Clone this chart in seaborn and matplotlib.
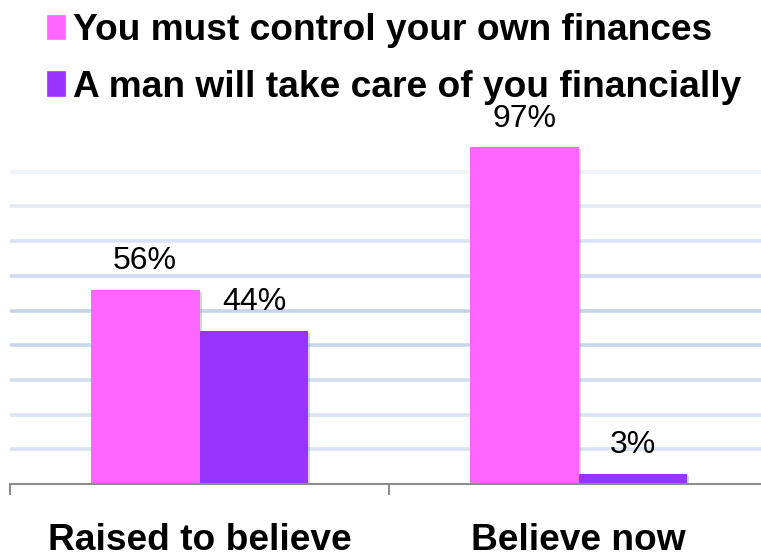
import matplotlib
matplotlib.use("Agg")
import matplotlib.pyplot as plt
import matplotlib.patheffects as pe
import pandas as pd
import seaborn as sns

# Survey results: share of respondents per belief
groups = ["Raised to believe", "Believe now"]
series = ["You must control your own finances", "A man will take care of you financially"]
own_finances = [56, 97]
man_provides = [44, 3]
colors = ["#FF66FF", "#9933FF"]
grid_levels = [10, 20, 30, 40, 50, 60, 70, 80, 90]
grid_colors = ["#d9e3f3", "#dae4f4", "#d2ddf0", "#c9d6ed", "#c6d3eb",
               "#d0dbef", "#dae3f4", "#e2e9f6", "#edf1f9"]

df = pd.DataFrame({
    "group": groups * 2,
    "series": [series[0]] * 2 + [series[1]] * 2,
    "value": own_finances + man_provides,
})

sns.set_theme(style="white")
plt.rcParams["font.family"] = ["Liberation Sans", "DejaVu Sans"]
plt.rcParams["text.color"] = "black"
plt.rcParams["xtick.color"] = "black"

fig = plt.figure(figsize=(7.61, 5.52), dpi=100)
ax = fig.add_axes([10 / 761, 68 / 552, 758 / 761, 347 / 552])

for lvl, c in zip(grid_levels, grid_colors):
    ax.axhline(lvl, color=c, lw=2.6, zorder=0)

sns.barplot(data=df, x="group", y="value", hue="series", order=groups,
            hue_order=series, palette=colors, width=0.574, gap=0,
            saturation=1, ax=ax, zorder=2)

shadow = [pe.SimplePatchShadow(offset=(1.5, -1.5), shadow_rgbFace="#888888", alpha=0.35),
          pe.Normal()]
for cont in ax.containers:
    for bar in cont:
        bar.set_edgecolor("none")
        bar.set_path_effects(shadow)
    ax.bar_label(cont, fmt="%d%%", padding=10, fontsize=23, color="black")

ax.set_xlim(-0.5, 1.5)
ax.set_ylim(0, 100)
ax.set_yticks([])
ax.set_xlabel("")
ax.set_ylabel("")
for side in ["top", "right", "left"]:
    ax.spines[side].set_visible(False)
ax.spines["bottom"].set_color("#8c8c8c")
ax.spines["bottom"].set_linewidth(1.5)

ax.set_xticks([-0.5, 0.5, 1.5], minor=True)
ax.tick_params(axis="x", which="minor", length=8, width=1.5, color="#8c8c8c",
               direction="out", bottom=True)
ax.tick_params(axis="x", which="major", length=0, pad=28, labelsize=26.7,
               labelcolor="black")
for lab in ax.get_xticklabels():
    lab.set_fontweight("bold")

handles, labels = ax.get_legend_handles_labels()
ax.legend(handles, labels, loc="upper left", bbox_to_anchor=(46 / 761, 1 - 13 / 552),
          bbox_transform=fig.transFigure, frameon=False, labelcolor="black",
          prop={"weight": "bold", "size": 26.7}, handlelength=0.55, handleheight=0.72,
          handletextpad=0.18, labelspacing=0.58, borderpad=0, borderaxespad=0)

fig.savefig("out.png", dpi=100)
